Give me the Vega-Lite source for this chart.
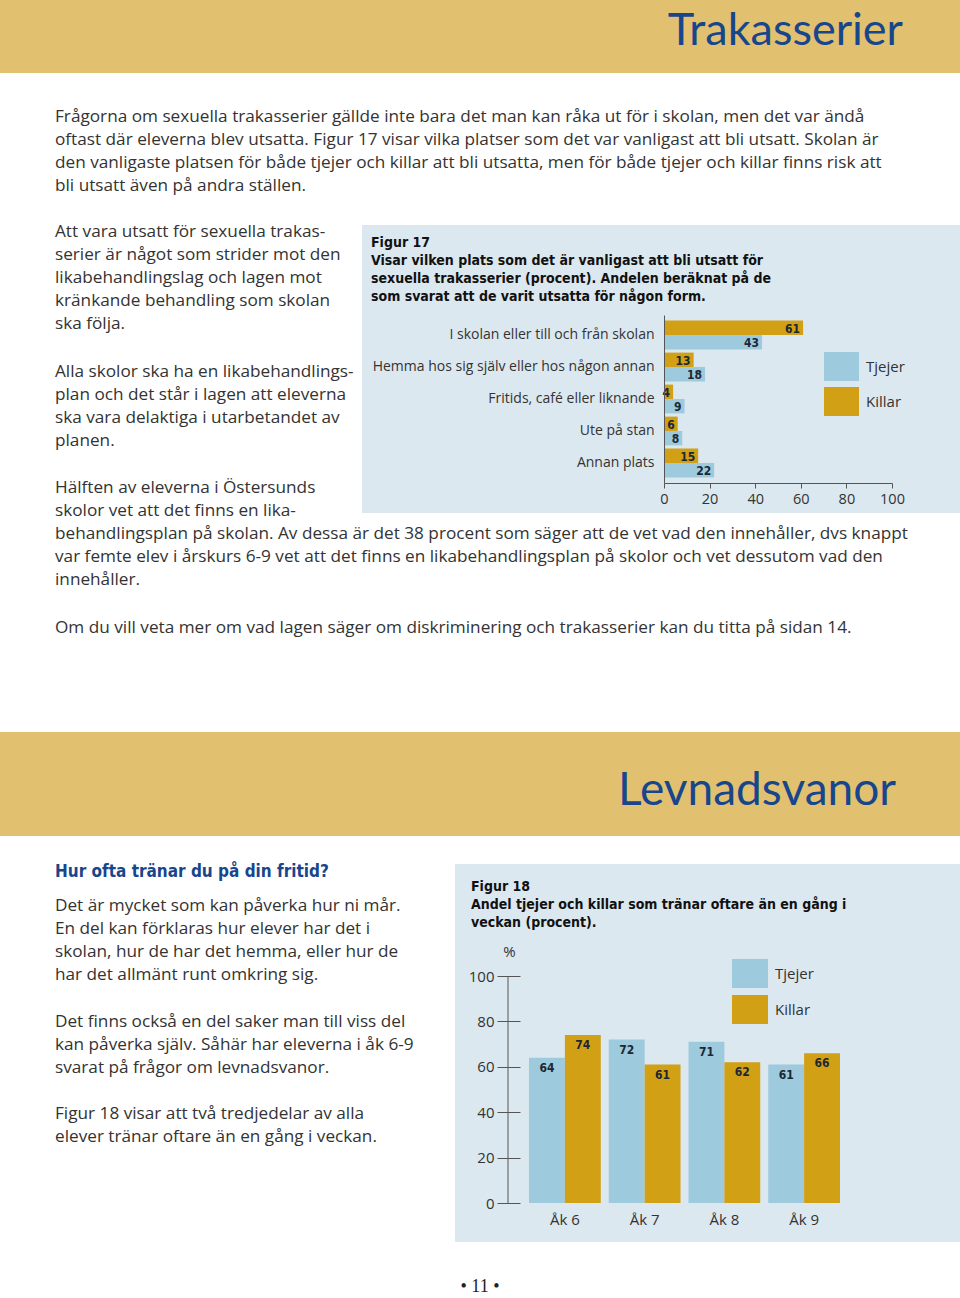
{
  "$schema": "https://vega.github.io/schema/vega-lite/v6.json",
  "width": 960,
  "height": 1298,
  "autosize": {"type": "none"},
  "padding": 0,
  "background": "#ffffff",
  "config": {
    "view": {"stroke": null},
    "axis": {"grid": false, "zindex": 1, "labelFlush": false, "labelFont": "Open Sans", "labelColor": "#333333", "domainColor": "#555555", "tickColor": "#555555"},
    "legend": {"zindex": 1}
  },
  "datasets": {
    "fig17": [
      {"plats": "I skolan eller till och från skolan", "kon": "Killar", "andel": 61},
      {"plats": "I skolan eller till och från skolan", "kon": "Tjejer", "andel": 43},
      {"plats": "Hemma hos sig själv eller hos någon annan", "kon": "Killar", "andel": 13},
      {"plats": "Hemma hos sig själv eller hos någon annan", "kon": "Tjejer", "andel": 18},
      {"plats": "Fritids, café eller liknande", "kon": "Killar", "andel": 4},
      {"plats": "Fritids, café eller liknande", "kon": "Tjejer", "andel": 9},
      {"plats": "Ute på stan", "kon": "Killar", "andel": 6},
      {"plats": "Ute på stan", "kon": "Tjejer", "andel": 8},
      {"plats": "Annan plats", "kon": "Killar", "andel": 15},
      {"plats": "Annan plats", "kon": "Tjejer", "andel": 22}
    ],
    "fig18": [
      {"ak": "Åk 6", "kon": "Tjejer", "andel": 64},
      {"ak": "Åk 6", "kon": "Killar", "andel": 74},
      {"ak": "Åk 7", "kon": "Tjejer", "andel": 72},
      {"ak": "Åk 7", "kon": "Killar", "andel": 61},
      {"ak": "Åk 8", "kon": "Tjejer", "andel": 71},
      {"ak": "Åk 8", "kon": "Killar", "andel": 62},
      {"ak": "Åk 9", "kon": "Tjejer", "andel": 61},
      {"ak": "Åk 9", "kon": "Killar", "andel": 66}
    ]
  },
  "data": {"values": [{}]},
  "layer": [
    {"mark": {"type": "rect", "color": "#e1c070"}, "encoding": {"x": {"value": 0}, "x2": {"value": 960}, "y": {"value": 0}, "y2": {"value": 73}}},
    {"mark": {"type": "rect", "color": "#e1c070"}, "encoding": {"x": {"value": 0}, "x2": {"value": 960}, "y": {"value": 732}, "y2": {"value": 836}}},
    {"mark": {"type": "rect", "color": "#dce8f0"}, "encoding": {"x": {"value": 362}, "x2": {"value": 960}, "y": {"value": 225}, "y2": {"value": 513}}},
    {"mark": {"type": "rect", "color": "#dce8f0"}, "encoding": {"x": {"value": 455}, "x2": {"value": 960}, "y": {"value": 864}, "y2": {"value": 1242}}},
    {
      "mark": {"type": "text", "align": "right", "baseline": "alphabetic", "font": "Lato", "fontSize": 45, "color": "#18468c"},
      "encoding": {"x": {"value": 903}, "y": {"value": 45}, "text": {"value": "Trakasserier"}}
    },
    {
      "mark": {"type": "text", "align": "right", "baseline": "alphabetic", "font": "Lato", "fontSize": 46, "color": "#18468c"},
      "encoding": {"x": {"value": 896}, "y": {"value": 805}, "text": {"value": "Levnadsvanor"}}
    },
    {
      "mark": {"type": "text", "align": "left", "baseline": "alphabetic", "font": "Open Sans", "fontSize": 17.2, "lineHeight": 23.2, "color": "#333333"},
      "encoding": {"x": {"value": 55}, "y": {"value": 121.5}, "text": {"value": [
        "Frågorna om sexuella trakasserier gällde inte bara det man kan råka ut för i skolan, men det var ändå",
        "oftast där eleverna blev utsatta. Figur 17 visar vilka platser som det var vanligast att bli utsatt. Skolan är",
        "den vanligaste platsen för både tjejer och killar att bli utsatta, men för både tjejer och killar finns risk att",
        "bli utsatt även på andra ställen."
      ]}}
    },
    {
      "mark": {"type": "text", "align": "left", "baseline": "alphabetic", "font": "Open Sans", "fontSize": 17.2, "lineHeight": 23.2, "color": "#333333"},
      "encoding": {"x": {"value": 55}, "y": {"value": 236.5}, "text": {"value": [
        "Att vara utsatt för sexuella trakas-",
        "serier är något som strider mot den",
        "likabehandlingslag och lagen mot",
        "kränkande behandling som skolan",
        "ska följa."
      ]}}
    },
    {
      "mark": {"type": "text", "align": "left", "baseline": "alphabetic", "font": "Open Sans", "fontSize": 17.2, "lineHeight": 23.2, "color": "#333333"},
      "encoding": {"x": {"value": 55}, "y": {"value": 376.5}, "text": {"value": [
        "Alla skolor ska ha en likabehandlings-",
        "plan och det står i lagen att eleverna",
        "ska vara delaktiga i utarbetandet av",
        "planen."
      ]}}
    },
    {
      "mark": {"type": "text", "align": "left", "baseline": "alphabetic", "font": "Open Sans", "fontSize": 17.2, "lineHeight": 23.2, "color": "#333333"},
      "encoding": {"x": {"value": 55}, "y": {"value": 492.5}, "text": {"value": [
        "Hälften av eleverna i Östersunds",
        "skolor vet att det finns en lika-",
        "behandlingsplan på skolan. Av dessa är det 38 procent som säger att de vet vad den innehåller, dvs knappt",
        "var femte elev i årskurs 6-9 vet att det finns en likabehandlingsplan på skolor och vet dessutom vad den",
        "innehåller."
      ]}}
    },
    {
      "mark": {"type": "text", "align": "left", "baseline": "alphabetic", "font": "Open Sans", "fontSize": 17.2, "color": "#333333"},
      "encoding": {"x": {"value": 55}, "y": {"value": 632.5}, "text": {"value": "Om du vill veta mer om vad lagen säger om diskriminering och trakasserier kan du titta på sidan 14."}}
    },
    {
      "mark": {"type": "text", "align": "left", "baseline": "alphabetic", "font": "Liberation Sans Narrow, DejaVu Sans Condensed, sans-serif", "fontWeight": "bold", "fontSize": 14, "lineHeight": 18, "color": "#111111"},
      "encoding": {"x": {"value": 371}, "y": {"value": 247}, "text": {"value": [
        "Figur 17",
        "Visar vilken plats som det är vanligast att bli utsatt för",
        "sexuella trakasserier (procent). Andelen beräknat på de",
        "som svarat att de varit utsatta för någon form."
      ]}}
    },
    {
      "mark": {"type": "text", "align": "left", "baseline": "alphabetic", "font": "Liberation Sans Narrow, DejaVu Sans Condensed, sans-serif", "fontWeight": "bold", "fontSize": 17, "color": "#18468c"},
      "encoding": {"x": {"value": 55}, "y": {"value": 877}, "text": {"value": "Hur ofta tränar du på din fritid?"}}
    },
    {
      "mark": {"type": "text", "align": "left", "baseline": "alphabetic", "font": "Open Sans", "fontSize": 17.2, "lineHeight": 23.2, "color": "#333333"},
      "encoding": {"x": {"value": 55}, "y": {"value": 910.5}, "text": {"value": [
        "Det är mycket som kan påverka hur ni mår.",
        "En del kan förklaras hur elever har det i",
        "skolan, hur de har det hemma, eller hur de",
        "har det allmänt runt omkring sig."
      ]}}
    },
    {
      "mark": {"type": "text", "align": "left", "baseline": "alphabetic", "font": "Open Sans", "fontSize": 17.2, "lineHeight": 23.2, "color": "#333333"},
      "encoding": {"x": {"value": 55}, "y": {"value": 1026.5}, "text": {"value": [
        "Det finns också en del saker man till viss del",
        "kan påverka själv. Såhär har eleverna i åk 6-9",
        "svarat på frågor om levnadsvanor."
      ]}}
    },
    {
      "mark": {"type": "text", "align": "left", "baseline": "alphabetic", "font": "Open Sans", "fontSize": 17.2, "lineHeight": 23.2, "color": "#333333"},
      "encoding": {"x": {"value": 55}, "y": {"value": 1118.5}, "text": {"value": [
        "Figur 18 visar att två tredjedelar av alla",
        "elever tränar oftare än en gång i veckan."
      ]}}
    },
    {
      "mark": {"type": "text", "align": "left", "baseline": "alphabetic", "font": "Liberation Sans Narrow, DejaVu Sans Condensed, sans-serif", "fontWeight": "bold", "fontSize": 14, "lineHeight": 18, "color": "#111111"},
      "encoding": {"x": {"value": 471}, "y": {"value": 891}, "text": {"value": [
        "Figur 18",
        "Andel tjejer och killar som tränar oftare än en gång i",
        "veckan (procent)."
      ]}}
    },
    {
      "mark": {"type": "text", "align": "center", "baseline": "middle", "font": "Liberation Serif", "fontSize": 18, "color": "#222222"},
      "encoding": {"x": {"value": 480}, "y": {"value": 1287}, "text": {"value": "• 11 •"}}
    },
    {
      "data": {"name": "fig17"},
      "layer": [
        {
          "mark": {"type": "bar"},
          "encoding": {
            "y": {
              "field": "plats", "type": "nominal",
              "sort": ["I skolan eller till och från skolan", "Hemma hos sig själv eller hos någon annan", "Fritids, café eller liknande", "Ute på stan", "Annan plats"],
              "scale": {"range": [315, 483], "paddingInner": 0.1, "paddingOuter": 0.175},
              "axis": {"orient": "left", "offset": -664, "zindex": 2, "title": null, "ticks": false, "labelPadding": 10, "labelFontSize": 14, "labelLimit": 400, "labelFont": "Open Sans", "labelColor": "#333333", "domainColor": "#555555"}
            },
            "yOffset": {"field": "kon", "type": "nominal", "sort": ["Killar", "Tjejer"], "scale": {"paddingInner": 0, "paddingOuter": 0}},
            "x": {
              "field": "andel", "type": "quantitative",
              "scale": {"domain": [0, 100], "range": [664, 892]},
              "axis": {"orient": "bottom", "offset": -815, "zindex": 2, "labelFlush": false, "values": [0, 20, 40, 60, 80, 100], "tickSize": 5, "labelPadding": 4, "title": null, "labelFontSize": 14.5, "labelFont": "Open Sans", "labelColor": "#333333", "domainColor": "#555555", "tickColor": "#555555"}
            },
            "color": {
              "field": "kon", "type": "nominal",
              "scale": {"domain": ["Tjejer", "Killar"], "range": ["#9ecadd", "#d2a014"]},
              "legend": {"orient": "none", "legendX": 824, "legendY": 349, "title": null, "padding": 0, "symbolType": "M-1,-0.829H1V0.829H-1Z", "symbolSize": 1225, "symbolStrokeWidth": 0, "symbolOpacity": 1, "labelFontSize": 15, "labelOffset": 7, "rowPadding": 2, "labelFont": "Open Sans", "labelColor": "#333333"}
            }
          }
        },
        {
          "mark": {"type": "text", "align": "right", "baseline": "middle", "dx": -3, "dy": 1, "font": "Liberation Sans Narrow, DejaVu Sans Condensed, sans-serif", "fontWeight": "bold", "fontSize": 12, "color": "#1c2833"},
          "encoding": {
            "y": {"field": "plats", "type": "nominal", "sort": ["I skolan eller till och från skolan", "Hemma hos sig själv eller hos någon annan", "Fritids, café eller liknande", "Ute på stan", "Annan plats"]},
            "yOffset": {"field": "kon", "type": "nominal", "sort": ["Killar", "Tjejer"]},
            "x": {"field": "andel", "type": "quantitative"},
            "text": {"field": "andel", "type": "quantitative"}
          }
        }
      ]
    },
    {
      "data": {"name": "fig18"},
      "layer": [
        {
          "mark": {"type": "bar"},
          "encoding": {
            "x": {
              "field": "ak", "type": "nominal", "sort": ["Åk 6", "Åk 7", "Åk 8", "Åk 9"],
              "scale": {"range": [529, 840], "paddingInner": 0.1, "paddingOuter": 0},
              "axis": {"orient": "bottom", "offset": -95, "zindex": 2, "domain": false, "ticks": false, "labelPadding": 9, "labelAngle": 0, "title": null, "labelFontSize": 15, "labelFont": "Open Sans", "labelColor": "#333333"}
            },
            "xOffset": {"field": "kon", "type": "nominal", "sort": ["Tjejer", "Killar"], "scale": {"paddingInner": 0, "paddingOuter": 0}},
            "y": {
              "field": "andel", "type": "quantitative",
              "scale": {"domain": [0, 100], "range": [1203, 976]},
              "axis": {"orient": "left", "offset": -520, "zindex": 2, "labelFlush": false, "values": [0, 20, 40, 60, 80, 100], "tickSize": 23, "tickColor": "#555555", "domain": false, "labelPadding": 3, "labelFontSize": 15, "labelFont": "Open Sans", "labelColor": "#333333", "title": "%", "titleAngle": 0, "titleX": -11, "titleY": 951, "titleAlign": "center", "titleBaseline": "middle", "titleFont": "Open Sans", "titleFontSize": 15, "titleFontWeight": "normal", "titleColor": "#333333"}
            },
            "color": {
              "field": "kon", "type": "nominal",
              "scale": {"domain": ["Tjejer", "Killar"], "range": ["#9ecadd", "#d2a014"]},
              "legend": {"orient": "none", "legendX": 732, "legendY": 955.5, "title": null, "padding": 0, "symbolType": "M-1,-0.806H1V0.806H-1Z", "symbolSize": 1296, "symbolStrokeWidth": 0, "symbolOpacity": 1, "labelFontSize": 15, "labelOffset": 7, "rowPadding": 3, "labelFont": "Open Sans", "labelColor": "#333333"}
            }
          }
        },
        {
          "mark": {"type": "text", "align": "center", "baseline": "middle", "dy": 10, "font": "Liberation Sans Narrow, DejaVu Sans Condensed, sans-serif", "fontWeight": "bold", "fontSize": 12, "color": "#1c2833"},
          "encoding": {
            "x": {"field": "ak", "type": "nominal", "sort": ["Åk 6", "Åk 7", "Åk 8", "Åk 9"]},
            "xOffset": {"field": "kon", "type": "nominal", "sort": ["Tjejer", "Killar"]},
            "y": {"field": "andel", "type": "quantitative"},
            "text": {"field": "andel", "type": "quantitative"}
          }
        },
        {
          "data": {"values": [{}]},
          "mark": {"type": "rule", "color": "#555555"},
          "encoding": {"x": {"value": 508}, "y": {"datum": 0}, "y2": {"datum": 100}}
        }
      ]
    }
  ],
  "resolve": {
    "scale": {"x": "independent", "y": "independent", "color": "independent", "xOffset": "independent", "yOffset": "independent"},
    "axis": {"x": "independent", "y": "independent"},
    "legend": {"color": "independent"}
  }
}
